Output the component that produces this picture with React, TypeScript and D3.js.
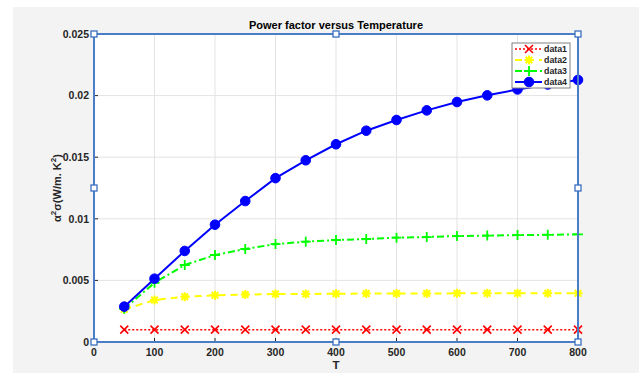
import React from "react";
import * as d3 from "d3";

const temps = [50, 100, 150, 200, 250, 300, 350, 400, 450, 500, 550, 600, 650, 700, 750, 800];
const data1 = [0.001, 0.001, 0.001, 0.001, 0.001, 0.001, 0.001, 0.001, 0.001, 0.001, 0.001, 0.001, 0.001, 0.001, 0.001, 0.001];
const data2 = [0.00265, 0.0034, 0.00368, 0.00379, 0.00385, 0.0039, 0.0039, 0.00392, 0.00393, 0.00394, 0.00394, 0.00395, 0.00395, 0.00395, 0.00395, 0.00395];
const data3 = [0.0027, 0.00481, 0.00625, 0.00706, 0.00755, 0.00795, 0.00814, 0.00828, 0.00836, 0.00847, 0.00852, 0.0086, 0.00864, 0.00868, 0.0087, 0.00874];
const data4 = [0.00287, 0.00514, 0.00739, 0.00952, 0.01144, 0.0133, 0.01475, 0.01605, 0.01715, 0.01802, 0.0188, 0.01948, 0.02002, 0.0205, 0.0209, 0.02127];
const xTicks = [0, 100, 200, 300, 400, 500, 600, 700, 800];
const yTicks = [0, 0.005, 0.01, 0.015, 0.02, 0.025];
const yTickLabels = ["0", "0.005", "0.01", "0.015", "0.02", "0.025"];
const seriesNames = ["data1", "data2", "data3", "data4"];

const W = 639, H = 373;
const L = 94, R = 578, T = 34, B = 342;
const font = "Arial, 'Liberation Sans', Helvetica, sans-serif";

const series = [
  { name: seriesNames[0], values: data1, color: "#ff0000", dash: "2,2", width: 1.5, marker: "x" },
  { name: seriesNames[1], values: data2, color: "#ffff00", dash: "7,5", width: 2, marker: "*" },
  { name: seriesNames[2], values: data3, color: "#00ff00", dash: "7,3,2,3", width: 2, marker: "+" },
  { name: seriesNames[3], values: data4, color: "#0000ff", dash: null, width: 2, marker: "o" },
];

function Marker({ type, x, y, color }: { type: string; x: number; y: number; color: string }) {
  const s = 4;
  if (type === "x")
    return (
      <path d={`M${x - s},${y - s}L${x + s},${y + s}M${x - s},${y + s}L${x + s},${y - s}`} stroke={color} strokeWidth={1.6} />
    );
  if (type === "+")
    return (
      <path d={`M${x - 5},${y}L${x + 5},${y}M${x},${y - 5}L${x},${y + 5}`} stroke={color} strokeWidth={1.8} />
    );
  if (type === "*") {
    const r = 4.5;
    return (
      <g stroke={color} strokeWidth={2}>
        <path d={`M${x - r},${y}L${x + r},${y}M${x},${y - r}L${x},${y + r}M${x - 3.3},${y - 3.3}L${x + 3.3},${y + 3.3}M${x - 3.3},${y + 3.3}L${x + 3.3},${y - 3.3}`} />
      </g>
    );
  }
  return <circle cx={x} cy={y} r={4.8} fill={color} stroke={color} strokeWidth={1} />;
}

export default function App() {
  const x = d3.scaleLinear().domain([0, 800]).range([L, R]);
  const y = d3.scaleLinear().domain([0, 0.025]).range([B, T]);
  const handles = [
    [L, T], [(L + R) / 2, T], [R, T],
    [L, (T + B) / 2], [R, (T + B) / 2],
    [L, B], [(L + R) / 2, B], [R, B],
  ];
  const legX = 512, legY = 43, legW = 58, legH = 45;
  return (
    <svg width={W} height={H} style={{ position: "absolute", left: 0, top: 0 }} fontFamily={font}>
      <rect x={0} y={0} width={W} height={H} fill="#ffffff" />
      <rect x={13} y={7} width={W - 13} height={H - 7} fill="#f3f3f3" />
      <rect x={L} y={T} width={R - L} height={B - T} fill="#ffffff" />
      {xTicks.map((t) => (
        <line key={"gx" + t} x1={x(t)} x2={x(t)} y1={T} y2={B} stroke="#e3e3e3" strokeWidth={1} />
      ))}
      {yTicks.map((t) => (
        <line key={"gy" + t} x1={L} x2={R} y1={y(t)} y2={y(t)} stroke="#e3e3e3" strokeWidth={1} />
      ))}
      {xTicks.map((t) => (
        <g key={"tx" + t}>
          <line x1={x(t)} x2={x(t)} y1={B} y2={B - 4} stroke="#262626" />
          <text x={x(t)} y={B + 13.5} textAnchor="middle" fontSize={10.5} fontWeight="bold" fill="#262626">{t}</text>
        </g>
      ))}
      {yTicks.map((t, i) => (
        <g key={"ty" + t}>
          <line x1={L} x2={L + 4} y1={y(t)} y2={y(t)} stroke="#262626" />
          <text x={L - 5} y={y(t) + 3.8} textAnchor="end" fontSize={10.5} fontWeight="bold" fill="#262626">{yTickLabels[i]}</text>
        </g>
      ))}
      {series.map((s) => {
        const line = d3.line<number>().x((_, i) => x(temps[i])).y((v) => y(v));
        return (
          <g key={s.name}>
            <path d={line(s.values) || ""} fill="none" stroke={s.color} strokeWidth={s.width} strokeDasharray={s.dash || undefined} />
            {s.values.map((v, i) => (
              <Marker key={i} type={s.marker} x={x(temps[i])} y={y(v)} color={s.color} />
            ))}
          </g>
        );
      })}
      <rect x={L} y={T} width={R - L} height={B - T} fill="none" stroke="#4a7cc7" strokeWidth={2} />
      {handles.map(([hx, hy], i) => (
        <rect key={"h" + i} x={hx - 3} y={hy - 3} width={6} height={6} fill="#ffffff" stroke="#3a6fc0" strokeWidth={1.3} />
      ))}
      <g>
        <rect x={legX} y={legY} width={legW} height={legH} fill="#ffffff" stroke="#808080" strokeWidth={1} />
        {series.map((s, i) => {
          const ly = legY + 6 + i * 11;
          return (
            <g key={"l" + s.name}>
              <line x1={legX + 3} x2={legX + 30} y1={ly} y2={ly} stroke={s.color} strokeWidth={s.width} strokeDasharray={s.dash || undefined} />
              <Marker type={s.marker} x={legX + 17} y={ly} color={s.color} />
              <text x={legX + 32} y={ly + 3.3} fontSize={9} fontWeight="bold" fill="#262626" textLength={23} lengthAdjust="spacingAndGlyphs">{s.name}</text>
            </g>
          );
        })}
      </g>
      <text x={(L + R) / 2} y={29} textAnchor="middle" fontSize={11} fontWeight="bold" fill="#000000">Power factor versus Temperature</text>
      <text x={(L + R) / 2} y={369} textAnchor="middle" fontSize={11.5} fontWeight="bold" fill="#262626">T</text>
      <text transform={`translate(61, ${(T + B) / 2}) rotate(-90)`} textAnchor="middle" fontSize={11} fontWeight="bold" fill="#262626">
        <tspan>α</tspan>
        <tspan dy={-5} fontSize={8}>2</tspan>
        <tspan dy={5}>σ(W/m. K</tspan>
        <tspan dy={-5} fontSize={8}>2</tspan>
        <tspan dy={5}>)</tspan>
      </text>
    </svg>
  );
}
